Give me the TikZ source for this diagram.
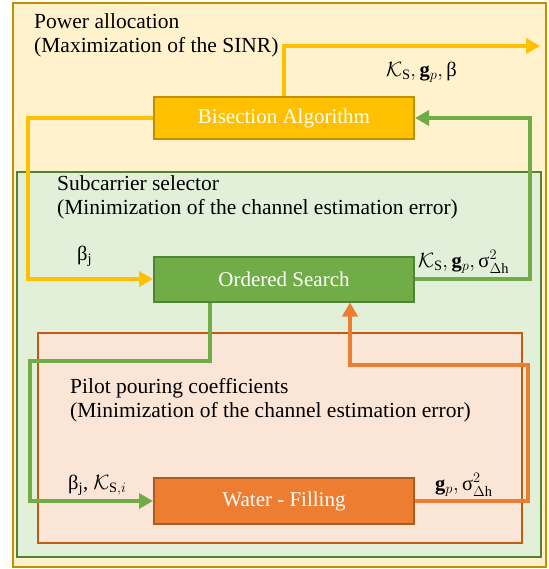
\documentclass[tikz,border=0pt]{standalone}
\usepackage{amsmath}
\usepackage{fontspec}
\setmainfont{Liberation Serif}
\usetikzlibrary{arrows.meta,calc}
\definecolor{ylfill}{HTML}{FFF2CC}
\definecolor{yldraw}{HTML}{BF9000}
\definecolor{grfill}{HTML}{E2F0D9}
\definecolor{grdraw}{HTML}{548235}
\definecolor{orfill}{HTML}{FBE5D6}
\definecolor{ordraw}{HTML}{C55A11}
\definecolor{ylbox}{HTML}{FFC000}
\definecolor{grbox}{HTML}{70AD47}
\definecolor{orbox}{HTML}{ED7D31}
\definecolor{orboxd}{HTML}{AE5A21}
\begin{document}
\begin{tikzpicture}[x=1pt,y=-1pt,
  procbox/.style={draw, line width=2pt, minimum width=260pt, text=white, inner sep=0pt,
    font=\fontsize{21}{24}\selectfont},
  title/.style={anchor=north west, align=left, inner sep=0pt, font=\fontsize{21.5}{24.5}\selectfont},
  lbl/.style={inner sep=0pt, font=\fontsize{20.5}{24}\selectfont},
  conn/.style={line width=3.4pt},
  tip/.style={-{Triangle[length=14pt,width=15pt]}}]
\useasboundingbox (0,0) rectangle (548,569);
% region boxes
\draw[fill=ylfill, draw=yldraw, line width=2pt] (13,3) rectangle (546,567);
\draw[fill=grfill, draw=grdraw, line width=2pt] (17,172) rectangle (541,557);
\draw[fill=orfill, draw=ordraw, line width=2pt] (38,333) rectangle (522,543);
% titles
\node[title] (t1) at (34,13) {Power allocation\\(Maximization of the SINR)};
\node[title] (t2) at (57,175) {Subcarrier selector\\(Minimization of the channel estimation error)};
\node[title] (t3) at (70,378) {Pilot pouring coefficients\\(Minimization of the channel estimation error)};
% process boxes
\node[procbox, fill=ylbox, draw=yldraw, minimum height=42pt] (bis) at (284,118) {Bisection Algorithm};
\node[procbox, fill=grbox, draw=grdraw, minimum height=45pt] (os) at (284,279) {Ordered Search};
\node[procbox, fill=orbox, draw=orboxd, minimum height=46pt] (wf) at (284,501) {Water - Filling};
% coordinates
\coordinate (outtip) at (540,46);
\coordinate (yc) at (28,279);
\coordinate (gc) at (530,118);
\coordinate (g1) at (210,361);
\coordinate (g2) at (30,361);
\coordinate (o1) at (528,365);
\coordinate (o2) at (350,365);
% connectors
\draw[conn, ylbox, tip] (bis.north) |- (outtip);
\draw[conn, ylbox, tip] (bis.west) -| (yc) -- (os.west);
\draw[conn, grbox, tip] (os.east) -| (gc) -- (bis.east);
\draw[conn, grbox, tip] (os.south -| g1) -- (g1) -- (g2) |- (wf.west);
\draw[conn, orbox, tip] (wf.east) -| (o1) -- (o2) -- (o2 |- os.south);
% labels
\node[lbl, anchor=west] (l1) at (386,72) {$\mathcal{K}_{\mathrm{S}}, \mathbf{g}_{p}, $\,β};
\node[lbl, anchor=west] (l2) at (77,256) {β$_{\mathrm{j}}$};
\node[lbl, anchor=west] (l3) at (418,262) {$\mathcal{K}_{\mathrm{S}}, \mathbf{g}_{p}, $\,σ$^{2}_{\Delta\mathrm{h}}$};
\node[lbl, anchor=west] (l4) at (68,485) {β$_{\mathrm{j}}$, $\mathcal{K}_{\mathrm{S},i}$};
\node[lbl, anchor=west] (l5) at (435,485) {$\mathbf{g}_{p}, $\,σ$^{2}_{\Delta\mathrm{h}}$};
\end{tikzpicture}
\end{document}
